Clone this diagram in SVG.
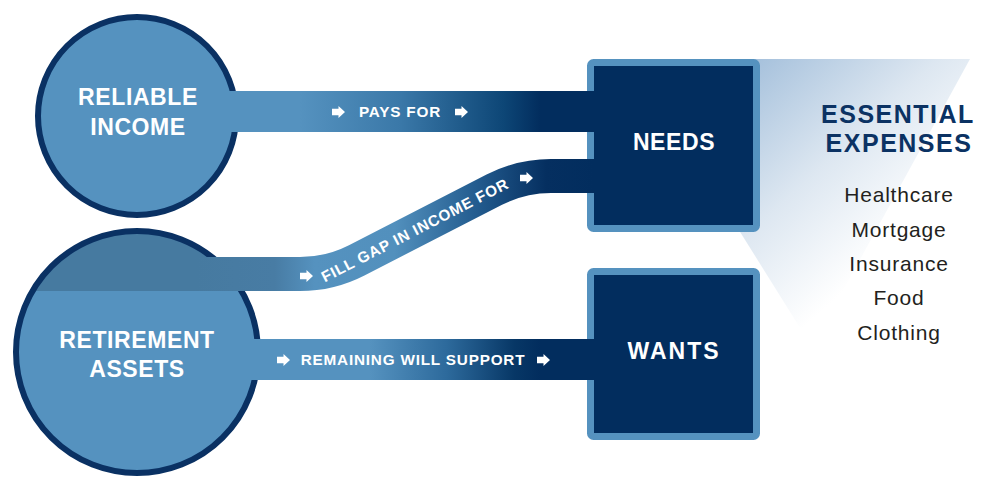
<svg xmlns="http://www.w3.org/2000/svg" width="982" height="477" viewBox="0 0 982 477">
  <defs>
    <style>
      .circle { fill: #5592bf; }
      .ring { fill: none; stroke: #0a3163; stroke-width: 6; }
      .box { fill: #022d5e; stroke: #5592bf; stroke-width: 7; }
      .node-label { font-family: "Liberation Sans", Arial, sans-serif; font-weight: bold; font-size: 23px; fill: #ffffff; text-anchor: middle; letter-spacing: 0.6px; }
      .flow-label { font-family: "Liberation Sans", Arial, sans-serif; font-weight: bold; font-size: 15.3px; fill: #ffffff; text-anchor: middle; letter-spacing: 0.8px; }
      .title { font-family: "Liberation Sans", Arial, sans-serif; font-weight: bold; font-size: 25px; fill: #0b3263; text-anchor: middle; letter-spacing: 1.5px; }
      .item { font-family: "Liberation Sans", Arial, sans-serif; font-size: 21px; fill: #231f20; text-anchor: middle; letter-spacing: 0.8px; }
    </style>
    <path id="arr" d="M0,-3.2 H6.5 V-6 L13,0 L6.5,6 V3.2 H0 Z" fill="#ffffff"/>
    <linearGradient id="g1" gradientUnits="userSpaceOnUse" x1="300" y1="0" x2="540" y2="0">
      <stop offset="0" stop-color="#5592bf"/>
      <stop offset="0.42" stop-color="#3a78a8"/>
      <stop offset="0.85" stop-color="#0d4676"/>
      <stop offset="1" stop-color="#022d5e"/>
    </linearGradient>
    <linearGradient id="g2" gradientUnits="userSpaceOnUse" x1="195" y1="0" x2="594" y2="0">
      <stop offset="0" stop-color="#467aa0"/>
      <stop offset="0.2" stop-color="#487ca4"/>
      <stop offset="0.3" stop-color="#5592bf"/>
      <stop offset="0.5" stop-color="#5290bd"/>
      <stop offset="0.7" stop-color="#245d90"/>
      <stop offset="0.88" stop-color="#052f60"/>
      <stop offset="1" stop-color="#022d5e"/>
    </linearGradient>
    <linearGradient id="g3" gradientUnits="userSpaceOnUse" x1="370" y1="0" x2="540" y2="0">
      <stop offset="0" stop-color="#5592bf"/>
      <stop offset="0.45" stop-color="#2d6a9c"/>
      <stop offset="0.85" stop-color="#073766"/>
      <stop offset="1" stop-color="#022d5e"/>
    </linearGradient>
    <linearGradient id="gt" gradientUnits="userSpaceOnUse" x1="745" y1="60" x2="905" y2="235">
      <stop offset="0" stop-color="#a3bfdb"/>
      <stop offset="0.55" stop-color="#dde7f1"/>
      <stop offset="1" stop-color="#ffffff"/>
    </linearGradient>
    <clipPath id="c2in">
      <circle cx="137" cy="352" r="121"/>
    </clipPath>
  </defs>

  <rect width="982" height="477" fill="#ffffff"/>

  <!-- essential expenses fan -->
  <polygon points="632,59 970,59 812,347" fill="url(#gt)"/>

  <g id="reliable-income">
    <circle class="circle" cx="137" cy="116" r="99"/>
    <circle class="ring" cx="137" cy="116" r="99"/>
    <text class="node-label" x="138" y="105">RELIABLE</text>
    <text class="node-label" x="138" y="135">INCOME</text>
  </g>

  <g id="retirement-assets">
    <circle class="circle" cx="137" cy="352" r="121"/>
    <rect x="10" y="225" width="260" height="66" fill="#467aa0" clip-path="url(#c2in)"/>
    <circle class="ring" cx="137" cy="352" r="121"/>
    <text class="node-label" x="137" y="348">RETIREMENT</text>
    <text class="node-label" x="137" y="377">ASSETS</text>
  </g>

  <g id="needs">
    <rect class="box" x="590.5" y="62.5" width="166" height="166" rx="3"/>
    <text class="node-label" x="674" y="150">NEEDS</text>
  </g>

  <g id="wants">
    <rect class="box" x="590.5" y="271.5" width="166" height="165" rx="3"/>
    <text class="node-label" x="674" y="359" style="letter-spacing:2px">WANTS</text>
  </g>

  <g id="connectors">
    <rect x="200" y="91" width="394" height="41" fill="url(#g1)"/>
    <path d="M195,274 H300 Q330,274 356.7,260.3 L494.3,189.7 Q521,176 551,176 H594" fill="none" stroke="url(#g2)" stroke-width="34"/>
    <rect x="230" y="339" width="364" height="41" fill="url(#g3)"/>

    <use href="#arr" x="332" y="112"/>
    <text class="flow-label" x="400" y="117">PAYS FOR</text>
    <use href="#arr" x="455" y="112"/>

    <use href="#arr" x="300" y="276"/>
    <text class="flow-label" x="415" y="235.5" transform="rotate(-27.2 415 230.3)">FILL GAP IN INCOME FOR</text>
    <use href="#arr" x="520" y="178"/>

    <use href="#arr" x="277" y="360"/>
    <text class="flow-label" x="413" y="365">REMAINING WILL SUPPORT</text>
    <use href="#arr" x="537" y="360"/>
  </g>

  <g id="essential-expenses">
    <text class="title" x="898" y="123">ESSENTIAL</text>
    <text class="title" x="899" y="152">EXPENSES</text>
    <text class="item" x="899" y="202">Healthcare</text>
    <text class="item" x="899" y="237">Mortgage</text>
    <text class="item" x="899" y="271">Insurance</text>
    <text class="item" x="899" y="305">Food</text>
    <text class="item" x="899" y="340">Clothing</text>
  </g>
</svg>
